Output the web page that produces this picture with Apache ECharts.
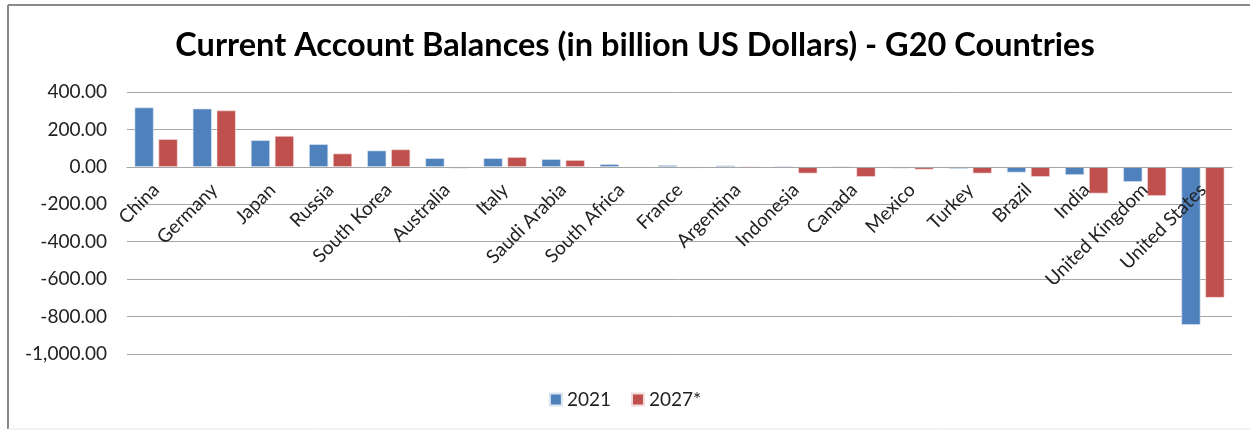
<!DOCTYPE html>
<html>
<head>
<meta charset="utf-8">
<script src="https://cdn.jsdelivr.net/npm/echarts@6/dist/echarts.min.js"></script>
<style>
  html, body { margin: 0; padding: 0; background: #fff; }
  #chart { width: 1250px; height: 430px; }
</style>
</head>
<body>
<div id="chart"></div>
<script>
// Current account balances of the G20, billion US dollars
const countries = ['China', 'Germany', 'Japan', 'Russia', 'South Korea', 'Australia', 'Italy',
  'Saudi Arabia', 'South Africa', 'France', 'Argentina', 'Indonesia', 'Canada', 'Mexico',
  'Turkey', 'Brazil', 'India', 'United Kingdom', 'United States'];
const values2021 = [317, 311, 142, 121, 87, 46, 46, 41, 14, 9, 7, 3, 1, -8, -10, -30, -43, -80, -844];
const values2027 = [148, 301, 165, 71, 93, -8, 52, 36, -5, -7, -1, -35, -53, -14, -35, -53, -142, -155, -699];
const seriesNames = ['2021', '2027*'];
const yTicks = { min: -1000, max: 400, interval: 200 };

const gridTop = 92, gridBottom = 76, chartHeight = 430;
// lift the category axis from the grid bottom up to the zero line
const plotHeight = chartHeight - gridTop - gridBottom;
const zeroOffset = -plotHeight * (0 - yTicks.min) / (yTicks.max - yTicks.min);

const chart = echarts.init(document.getElementById('chart'));
const font = 'Lato, "Open Sans", sans-serif';

chart.setOption({
  animation: false,
  title: {
    text: 'Current Account Balances (in billion US Dollars) - G20 Countries',
    left: 630, top: 24, textAlign: 'center',
    textStyle: { fontFamily: font, fontSize: 32.5, fontWeight: 'bold', color: '#000' }
  },
  legend: {
    data: seriesNames,
    left: 'center', top: 385,
    itemWidth: 12, itemHeight: 12, itemGap: 20,
    icon: 'rect',
    textStyle: { fontFamily: font, fontSize: 19, color: '#222' }
  },
  grid: { left: 127, right: 18, top: gridTop, bottom: gridBottom, containLabel: false, outerBoundsMode: 'none' },
  xAxis: {
    type: 'category',
    data: countries,
    offset: zeroOffset,
    z: 10,
    axisLine: { onZero: false, lineStyle: { color: '#a6a6a6', width: 1 } },
    axisTick: { show: false },
    axisLabel: {
      rotate: 45, interval: 0, margin: 20,
      fontFamily: font, fontSize: 19, color: '#222'
    }
  },
  yAxis: {
    type: 'value',
    min: yTicks.min, max: yTicks.max, interval: yTicks.interval,
    axisLine: { show: false },
    axisTick: { show: false },
    axisLabel: {
      margin: 20, fontFamily: font, fontSize: 19, color: '#222',
      formatter: v => v.toLocaleString('en-US', { minimumFractionDigits: 2, maximumFractionDigits: 2 })
    },
    splitLine: { lineStyle: { color: '#a6a6a6', width: 1 } }
  },
  series: [
    {
      name: seriesNames[0], type: 'bar', data: values2021,
      barWidth: 19, barGap: '26%',
      itemStyle: { color: '#4F81BD', borderColor: '#dbe5f1', borderWidth: 0.6 }
    },
    {
      name: seriesNames[1], type: 'bar', data: values2027,
      barWidth: 19,
      itemStyle: { color: '#C0504D', borderColor: '#f2dcdb', borderWidth: 0.6 }
    }
  ],
  graphic: [
    { type: 'line', shape: { x1: 8, y1: 5, x2: 1250, y2: 5 }, style: { stroke: '#888', lineWidth: 2 } },
    { type: 'line', shape: { x1: 8, y1: 5, x2: 8, y2: 429 }, style: { stroke: '#888', lineWidth: 2 } },
    { type: 'line', shape: { x1: 8, y1: 429, x2: 1250, y2: 429 }, style: { stroke: '#e6e6e6', lineWidth: 1 } }
  ]
});
</script>
</body>
</html>
